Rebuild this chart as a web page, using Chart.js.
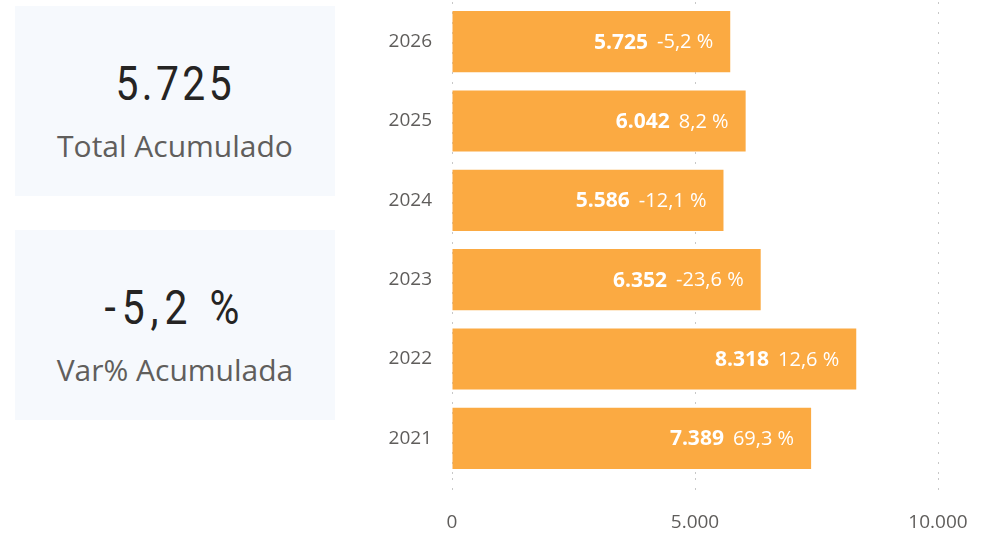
<!DOCTYPE html>
<html>
<head>
<meta charset="utf-8">
<script src="https://cdn.jsdelivr.net/npm/chart.js@4"></script>
<style>
  html, body { margin: 0; padding: 0; background: #ffffff; width: 994px; height: 536px; overflow: hidden; }
  .card { position: absolute; left: 15px; width: 320px; height: 190px; background: #f6f9fd; }
  .kpi { position: absolute; left: 0; width: 320px; text-align: center; font-family: Roboto, sans-serif; font-size: 48px; line-height: 48px; color: #252423; }
  .kpi span { display: inline-block; letter-spacing: 4px; transform: scaleX(0.85); transform-origin: 50% 50%; }
  .kpi span#kpi2 { letter-spacing: 7px; }
  .cap { position: absolute; left: 0; width: 320px; text-align: center; font-family: "Open Sans", "Noto Sans", sans-serif; font-size: 30px; line-height: 30px; color: #605e5c; }
  #wrap { position: absolute; left: 340px; top: 0; width: 654px; height: 536px; }
</style>
</head>
<body>
<div class="card" style="top:6px;">
  <div class="kpi" style="top:54px;"><span id="kpi1"></span></div>
  <div class="cap" style="top:125px;">Total Acumulado</div>
</div>
<div class="card" style="top:230px;">
  <div class="kpi" style="top:54px;"><span id="kpi2"></span></div>
  <div class="cap" style="top:125px;">Var% Acumulada</div>
</div>
<div id="wrap"><canvas id="c" width="654" height="536"></canvas></div>
<script>
const years = ['2021', '2022', '2023', '2024', '2025', '2026'];
const totals = [7389, 8318, 6352, 5586, 6042, 5725];
const varPct = [69.3, 12.6, -23.6, -12.1, 8.2, -5.2];
const xTicks = [0, 5000, 10000];
const kpiTotal = 5725;
const kpiVar = -5.2;

function fmtInt(v) {
  const s = Math.round(Math.abs(v)).toString();
  const out = s.replace(/\B(?=(\d{3})+(?!\d))/g, '.');
  return (v < 0 ? '-' : '') + out;
}
function fmtPct(v) {
  return (v < 0 ? '-' : '') + Math.abs(v).toFixed(1).replace('.', ',') + ' %';
}

document.getElementById('kpi1').textContent = fmtInt(kpiTotal);
document.getElementById('kpi2').textContent = fmtPct(kpiVar);

const labelFont = '"Open Sans", "Noto Sans", sans-serif';

const barLabels = {
  id: 'barLabels',
  afterDatasetsDraw(chart) {
    const ctx = chart.ctx;
    const meta = chart.getDatasetMeta(0);
    ctx.save();
    ctx.textBaseline = 'middle';
    ctx.textAlign = 'right';
    meta.data.forEach((bar, i) => {
      const right = bar.x - 17;
      const y = bar.y + 1;
      const pctText = fmtPct(varPct[i]);
      ctx.font = '400 20px ' + labelFont;
      ctx.fillStyle = '#ffffff';
      ctx.fillText(pctText, right, y);
      const w = ctx.measureText(pctText).width;
      ctx.font = '700 21px ' + labelFont;
      ctx.fillText(fmtInt(totals[i]), right - w - 9, y);
    });
    ctx.restore();
  }
};

new Chart(document.getElementById('c'), {
  type: 'bar',
  data: {
    labels: years,
    datasets: [{
      data: totals,
      backgroundColor: '#fbaa42',
      borderWidth: 0,
      barPercentage: 0.77,
      categoryPercentage: 1.0
    }]
  },
  options: {
    indexAxis: 'y',
    responsive: false,
    animation: false,
    events: [],
    layout: { padding: { top: 2, right: 56, bottom: 0, left: 0 } },
    plugins: { legend: { display: false }, tooltip: { enabled: false } },
    scales: {
      y: {
        reverse: true,
        afterFit(scale) { scale.width = 112; scale.paddingTop = 0; scale.paddingBottom = 0; },
        grid: { display: false, drawTicks: false },
        border: { display: false },
        ticks: { padding: 20, color: '#5f5d5b', font: { family: labelFont, size: 19 } }
      },
      x: {
        min: 0,
        max: 10000,
        afterBuildTicks(scale) { scale.ticks = xTicks.map(v => ({ value: v })); },
        afterFit(scale) { scale.height = 58; scale.paddingTop = 0; scale.paddingBottom = 0; },
        grid: {
          color: '#c8c8c8',
          lineWidth: 1,
          drawTicks: true,
          tickLength: 19,
          tickColor: '#c8c8c8',
          tickBorderDash: [2, 8]
        },
        border: { display: false, dash: [2, 8] },
        ticks: {
          padding: 14,
          color: '#5f5d5b',
          maxRotation: 0,
          font: { family: labelFont, size: 19 },
          callback: (v) => fmtInt(v)
        }
      }
    }
  },
  plugins: [barLabels]
});
</script>
</body>
</html>
